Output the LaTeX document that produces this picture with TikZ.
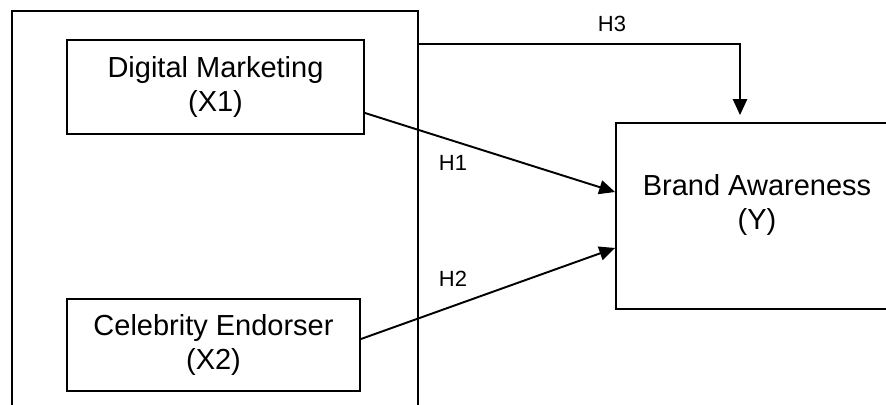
\documentclass[tikz,border=0pt]{standalone}
\usepackage{fontspec}
\setmainfont{Liberation Sans}
\usetikzlibrary{arrows.meta}
\tikzset{
	varbox/.style={draw, line width=1.1pt, inner sep=0pt, align=center},
	hlabel/.style={font=\fontsize{12.5}{14}\selectfont},
	every edge/.style={draw,-{Triangle[length=9pt,width=8pt]},line width=1.1pt}
}

\begin{document}
\begin{tikzpicture}[x=0.02cm, y=-0.02cm, font=\fontsize{16.5}{19.5}\selectfont]
\clip (0,0) rectangle (886,405);

\draw[line width=1.1pt] (12,410) -- (12,11) -- (418,11) -- (418,410);
\coordinate (frame) at (418,44);

\node[varbox, minimum width=5.94cm, minimum height=1.88cm] (dm) at (215.5,87) {Digital Marketing\\(X1)};
\node[varbox, minimum width=5.86cm, minimum height=1.84cm] (ce) at (213.5,345) {Celebrity Endorser\\(X2)};

\node[varbox, minimum width=5.44cm, minimum height=3.72cm] (brand) at (752,216) {};
\node[align=center] (brandtext) at (757,205) {Brand Awareness\\(Y)};

\node[hlabel] (h3) at (612,24) {H3};
\node[hlabel] (h1) at (453,163) {H1};
\node[hlabel] (h2) at (453,279) {H2};

\path ([yshift=-0.52cm]dm.east) edge ([yshift=0.48cm]brand.west);
\path ([yshift=0.12cm]ce.east) edge ([yshift=-0.64cm]brand.west);
\draw[-{Triangle[length=9pt,width=8pt]}, line width=1.1pt] (frame) -| ([xshift=-0.24cm,yshift=0.14cm]brand.north);
\end{tikzpicture}
\end{document}
